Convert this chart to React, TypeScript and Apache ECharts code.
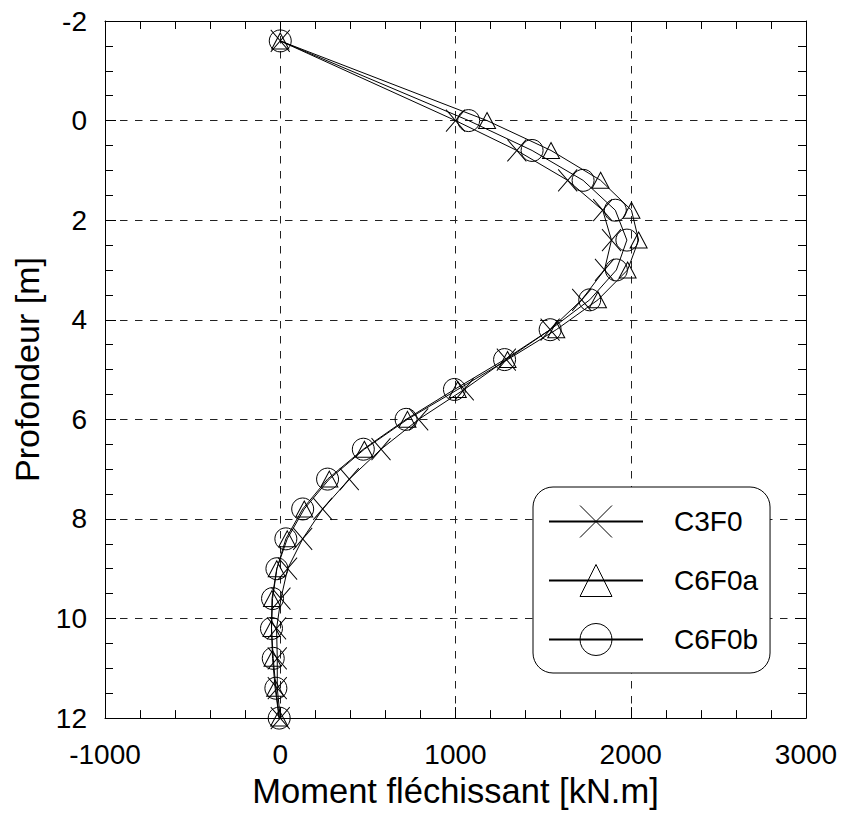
import React, { useEffect, useRef } from "react";
import * as echarts from "echarts";

const depths = [-1.6, 0, 0.6, 1.2, 1.8, 2.4, 3.0, 3.6, 4.2, 4.8, 5.4, 6.0, 6.6, 7.2, 7.8, 8.4, 9.0, 9.6, 10.2, 10.8, 11.4, 12.0];
const c3f0 = [0, 1000, 1350, 1640, 1840, 1890, 1850, 1720, 1540, 1290, 1050, 790, 575, 394, 242, 128, 42, 4, -21, -17, -17, 0];
const c6f0a = [0, 1180, 1545, 1828, 2004, 2045, 1982, 1813, 1575, 1297, 1013, 726, 480, 280, 137, 40, -20, -47, -50, -44, -29, -6];
const c6f0b = [0, 1075, 1437, 1728, 1912, 1978, 1918, 1766, 1540, 1280, 994, 718, 474, 270, 128, 32, -19, -44, -50, -40, -25, -6];

const seriesNames = ["C3F0", "C6F0a", "C6F0b"];
const xTitle = "Moment fléchissant [kN.m]";
const yTitle = "Profondeur [m]";

const FONT = "'Liberation Sans', Arial, Helvetica, sans-serif";
const CROSS = "path://M0 0L20 22M20 0L0 22";

export default function App() {
  const ref = useRef<HTMLDivElement>(null);
  useEffect(() => {
    if (!ref.current) return;
    const chart = echarts.init(ref.current, null, { renderer: "svg" });
    const pairs = (vals: number[]) => vals.map((v, i) => [v, depths[i]]);
    const hollow = { color: "rgba(0,0,0,0)", borderColor: "#000", borderWidth: 1 };
    const mkSeries = (name: string, vals: number[], symbol: string, size: any) => ({
      name,
      type: "line",
      data: pairs(vals),
      symbol,
      symbolSize: size,
      showAllSymbol: true,
      lineStyle: { color: "#000", width: 1 },
      itemStyle: hollow,
      emphasis: { disabled: true },
      z: 3,
    });
    const axisLine = { show: true, onZero: false, lineStyle: { color: "#000", width: 1 } };
    const splitLine = { show: true, lineStyle: { color: "#222", width: 1, type: [7.5, 7.5] } };
    const tick = { show: true, inside: true, length: 11, lineStyle: { color: "#000" } };
    const plain = (v: number) => String(v);
    chart.setOption({
      animation: false,
      textStyle: { fontFamily: FONT },
      grid: { left: 105, top: 21, right: 37, bottom: 92, containLabel: false },
      legend: {
        orient: "vertical",
        left: 533,
        top: 487,
        data: seriesNames,
        itemWidth: 94,
        itemHeight: 40,
        itemGap: 26,
        padding: [18, 12, 17, 15],
        backgroundColor: "#fff",
        borderColor: "#000",
        borderWidth: 1,
        borderRadius: 20,
        textStyle: { fontSize: 28, color: "#000", fontFamily: FONT, padding: [0, 0, 0, 26] },
        itemStyle: hollow,
        selectedMode: false,
      },
      xAxis: [
        {
          type: "value",
          min: -1000,
          max: 3000,
          interval: 1000,
          position: "bottom",
          name: xTitle,
          nameLocation: "middle",
          nameGap: 53,
          nameTextStyle: { fontSize: 34.5, color: "#000", fontFamily: FONT },
          axisLine,
          axisTick: tick,
          minorTick: { show: true, splitNumber: 5, length: 8, lineStyle: { color: "#000" } },
          axisLabel: { fontSize: 28, color: "#000", margin: 22, fontFamily: FONT, formatter: plain },
          splitLine,
        },
        {
          type: "value",
          min: -1000,
          max: 3000,
          interval: 1000,
          position: "top",
          axisLine,
          axisTick: tick,
          minorTick: { show: true, splitNumber: 5, length: 8, lineStyle: { color: "#000" } },
          axisLabel: { show: false },
          splitLine: { show: false },
        },
      ],
      yAxis: [
        {
          type: "value",
          min: -2,
          max: 12,
          interval: 2,
          inverse: true,
          position: "left",
          name: yTitle,
          nameLocation: "middle",
          nameGap: 61,
          nameTextStyle: { fontSize: 34, color: "#000", fontFamily: FONT },
          axisLine,
          axisTick: tick,
          minorTick: { show: true, splitNumber: 4, length: 8, lineStyle: { color: "#000" } },
          axisLabel: { fontSize: 28, color: "#000", margin: 18, fontFamily: FONT, formatter: plain },
          splitLine,
        },
        {
          type: "value",
          min: -2,
          max: 12,
          interval: 2,
          inverse: true,
          position: "right",
          axisLine,
          axisTick: tick,
          minorTick: { show: true, splitNumber: 4, length: 8, lineStyle: { color: "#000" } },
          axisLabel: { show: false },
          splitLine: { show: false },
        },
      ],
      series: [
        mkSeries(seriesNames[0], c3f0, CROSS, [19, 22]),
        mkSeries(seriesNames[1], c6f0a, "triangle", [17, 16]),
        mkSeries(seriesNames[2], c6f0b, "circle", 22),
      ],
    });
    return () => chart.dispose();
  }, []);
  return (
    <div
      ref={ref}
      style={{ position: "fixed", left: 0, top: 0, width: 843, height: 813, background: "#fff" }}
    />
  );
}
